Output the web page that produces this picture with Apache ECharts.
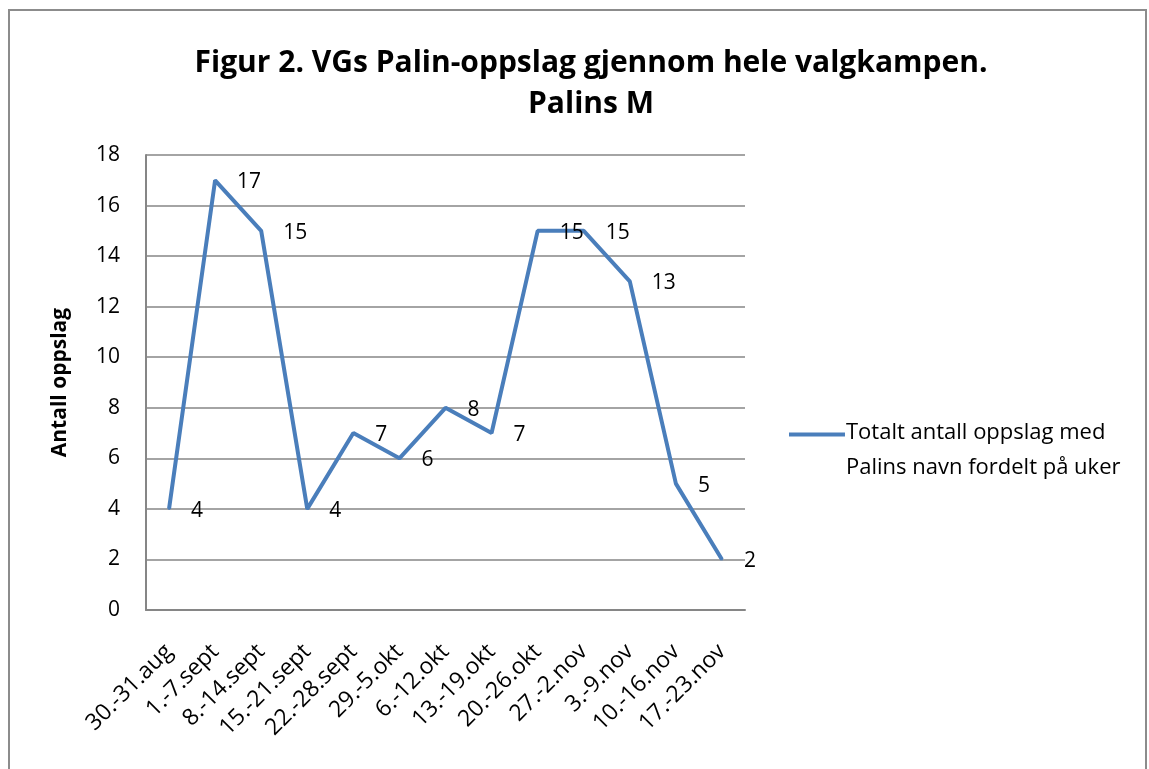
<!DOCTYPE html>
<html><head><meta charset="utf-8">
<script src="https://cdn.jsdelivr.net/npm/echarts@6/dist/echarts.min.js"></script>
<style>html,body{margin:0;padding:0;background:#fff}#frame{position:absolute;left:8px;top:9px;width:1139px;height:770px;border:2px solid #8c8c8c;box-sizing:border-box}#c{width:1149px;height:769px;position:absolute;left:0;top:0}</style>
</head><body><div id="frame"></div><div id="c"></div>
<script>
const categories = ['30.-31.aug','1.-7.sept','8.-14.sept','15.-21.sept','22.-28.sept','29.-5.okt','6.-12.okt','13.-19.okt','20.-26.okt','27.-2.nov','3.-9.nov','10.-16.nov','17.-23.nov'];
const values = [4,17,15,4,7,6,8,7,15,15,13,5,2];
const seriesName = 'Totalt antall oppslag med\nPalins navn fordelt på uker';
const titleText = 'Figur 2. VGs Palin-oppslag gjennom hele valgkampen.\nPalins M';
const yAxisName = 'Antall oppslag';
const font = '"Open Sans", Lato, sans-serif';
const chart = echarts.init(document.getElementById('c'), null, {renderer:'canvas'});
chart.setOption({
  backgroundColor: 'transparent',
  animation: false,
  title: {text: titleText, left: 586, textAlign: 'center', top: 38,
    textStyle: {fontFamily: font, fontWeight: 'bold', fontSize: 30, color: '#000', lineHeight: 41}},
  legend: {show: true, left: 784, top: 410, itemWidth: 56, itemHeight: 35, itemGap: 0,
    icon: 'path://M0,0L56,0L56,4L0,4Z M0,35L0.01,35L0.01,35.01Z', data: [{name: seriesName}],
    itemStyle: {color: '#4A7EBB'},
    textStyle: {fontFamily: font, fontSize: 22, color: '#000', lineHeight: 35, padding: [0,0,0,-4]}},
  grid: {left: 146, right: 404, top: 155, bottom: 159},
  xAxis: {type: 'category', data: categories, boundaryGap: true,
    axisLine: {lineStyle: {color: '#868686', width: 2}}, axisTick: {show: false},
    axisLabel: {rotate: 45, fontFamily: font, fontSize: 23, color: '#000', margin: 38, interval: 0}},
  yAxis: {type: 'value', min: 0, max: 18, interval: 2, name: yAxisName, nameLocation: 'middle', nameGap: 75,
    nameTextStyle: {fontFamily: font, fontWeight: 'bold', fontSize: 21, color: '#000'},
    axisLine: {show: true, lineStyle: {color: '#868686', width: 2}}, axisTick: {show: false},
    splitLine: {lineStyle: {color: '#868686', width: 1.5}},
    axisLabel: {fontFamily: font, fontSize: 21, color: '#000', margin: 26}},
  series: [{name: seriesName, type: 'line', data: values, symbol: 'circle', symbolSize: 2, showSymbol: true, smooth: false,
    lineStyle: {color: '#4A7EBB', width: 4}, itemStyle: {color: '#4A7EBB'},
    label: {show: true, position: 'right', distance: 21, fontFamily: font, fontSize: 21, color: '#000', offset: [0, 2]}}]
});
</script></body></html>
